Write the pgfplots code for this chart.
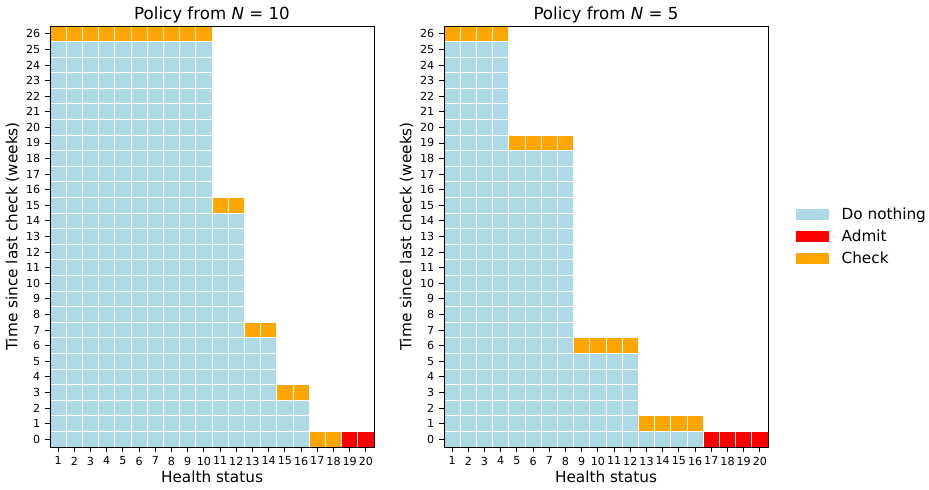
\documentclass[border=0pt]{standalone}
\usepackage{pgfplots}
\pgfplotsset{compat=1.18}
\usepackage{pgfplotstable}
\usepackage{fontspec}
\setmainfont{DejaVu Sans}
\definecolor{dn}{HTML}{ADD8E6}
\definecolor{ad}{HTML}{FF0000}
\definecolor{ck}{HTML}{FFA500}

% heights (in cells) of each action block per health status
\pgfplotstableread{
x blue red orange
1 26 0 1
2 26 0 1
3 26 0 1
4 26 0 1
5 26 0 1
6 26 0 1
7 26 0 1
8 26 0 1
9 26 0 1
10 26 0 1
11 15 0 1
12 15 0 1
13 7 0 1
14 7 0 1
15 3 0 1
16 3 0 1
17 0 0 1
18 0 0 1
19 0 1 0
20 0 1 0
}\leftdata

\pgfplotstableread{
x blue red orange
1 26 0 1
2 26 0 1
3 26 0 1
4 26 0 1
5 19 0 1
6 19 0 1
7 19 0 1
8 19 0 1
9 6 0 1
10 6 0 1
11 6 0 1
12 6 0 1
13 1 0 1
14 1 0 1
15 1 0 1
16 1 0 1
17 0 1 0
18 0 1 0
19 0 1 0
20 0 1 0
}\rightdata

\pgfplotsset{
  policy/.style={
    scale only axis, width=233.28pt, height=303.12pt,
    ybar stacked, bar width=1, bar shift=0pt,
    xmin=0.5, xmax=20.5, ymin=0, ymax=27,
    xtick={1,...,20},
    ytick={0.5,1.5,...,26.5},
    yticklabels={0,1,2,3,4,5,6,7,8,9,10,11,12,13,14,15,16,17,18,19,20,21,22,23,24,25,26},
    minor xtick={1.5,2.5,...,19.5},
    minor ytick={1,...,26},
    xminorgrids=true, yminorgrids=true,
    minor grid style={white, line width=0.7pt},
    minor tick length=0pt,
    major tick length=3.5pt,
    tick align=outside, tick pos=left,
    tick style={black, line width=0.6pt},
    axis line style={line width=0.6pt},
    axis on top,
    /pgf/number format/assume math mode=true,
    ticklabel style={font=\fontsize{8}{9}\selectfont},
    xticklabel style={inner xsep=0pt},
    title style={font=\fontsize{12}{14}\selectfont, yshift=-7pt},
    label style={font=\fontsize{11}{13}\selectfont},
    xlabel={Health status},
    ylabel={Time since last check (weeks)},
    xlabel style={yshift=3pt},
    ylabel style={yshift=-2pt},
    legend image code/.code={\fill[##1] (0pt,-4pt) rectangle (23.8pt,4pt); \path (23.8pt,0pt) -- (28.8pt,0pt);},
  },
}

\begin{document}
\begin{tikzpicture}
\useasboundingbox (-36pt,-30.96pt) rectangle (632.88pt,321.84pt);
\begin{axis}[policy, at={(0pt,0pt)}, anchor=south west,
  title={Policy from \textit{N} = 10}]
  \addplot[fill=dn, draw=none] table[x=x, y=blue] {\leftdata};
  \addplot[fill=ad, draw=none] table[x=x, y=red] {\leftdata};
  \addplot[fill=ck, draw=none] table[x=x, y=orange] {\leftdata};
\end{axis}
\begin{axis}[policy, at={(283.68pt,0pt)}, anchor=south west,
  title={Policy from \textit{N} = 5},
  legend style={at={(1,0.5)}, anchor=west, xshift=17pt, draw=none, fill=none,
    font=\fontsize{11}{13}\selectfont, row sep=2pt,
    nodes={inner xsep=4pt}},
  legend cell align=left]
  \addplot[fill=dn, draw=none] table[x=x, y=blue] {\rightdata};
  \addlegendentry{Do nothing}
  \addplot[fill=ad, draw=none] table[x=x, y=red] {\rightdata};
  \addlegendentry{Admit}
  \addplot[fill=ck, draw=none] table[x=x, y=orange] {\rightdata};
  \addlegendentry{Check}
\end{axis}
\end{tikzpicture}
\end{document}
